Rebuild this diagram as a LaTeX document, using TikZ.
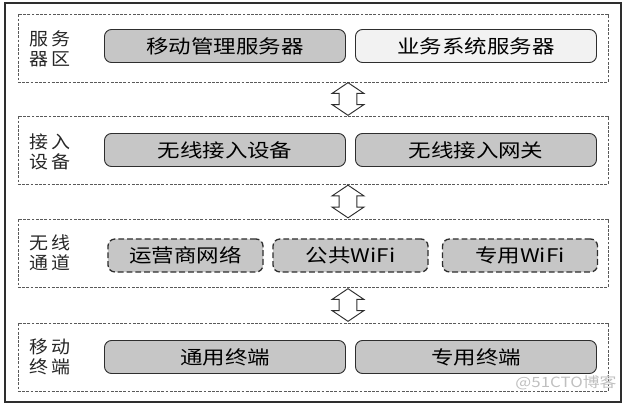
\documentclass[tikz,border=0pt]{standalone}
\usepackage{fontspec}
\newfontfamily\cjk[FakeStretch=1.2]{Noto Sans CJK SC}
\newfontfamily\cjklab[FakeStretch=1.08]{Noto Sans CJK SC}
\usepackage{tikz}
\usetikzlibrary{positioning,shapes.arrows,calc}
\definecolor{boxgray}{HTML}{C6C6C6}
\definecolor{boxlight}{HTML}{F2F2F2}
\definecolor{linedark}{HTML}{2E2E2E}
\definecolor{layerline}{HTML}{5A5A5A}

\begin{document}
\begin{tikzpicture}[
  x=0.03cm,y=-0.03cm,
  frame/.style={draw=linedark,line width=0.9pt,minimum width=18.48cm,minimum height=11.97cm,inner sep=0pt},
  layer/.style={draw=layerline,dash pattern=on 2.4pt off 1.2pt,line width=0.6pt,
                minimum width=17.7cm,minimum height=2.04cm,inner sep=0pt},
  lab/.style={font=\cjklab\fontsize{15}{17}\selectfont,align=left,inner sep=0pt,text=black!85},
  srv/.style={draw=linedark,line width=0.8pt,rounded corners=6pt,fill=boxgray,
              minimum width=7.23cm,minimum height=0.99cm,inner sep=0pt,
              font=\cjk\fontsize{16}{18}\selectfont},
  srvlight/.style={srv,fill=boxlight},
  chan/.style={srv,dash pattern=on 5pt off 2.5pt,line width=1.1pt,minimum width=4.65cm},
  dbl/.style={double arrow,draw=linedark,fill=white,line width=0.8pt,
              shape border rotate=90,minimum height=0.98cm,minimum width=0.93cm,
              inner sep=0.25cm,double arrow head extend=0.21cm,double arrow tip angle=112},
]
\useasboundingbox (0,0) rectangle (627,405);
\node[frame] (fr) at (313,202.5) {};

% Four layers
\node[layer] (l1) at (313,48) {};
\node[layer] (l2) at (313,150) {};
\node[layer] (l3) at (313,253) {};
\node[layer] (l4) at (313,357) {};

% Layer names on the left
\node[lab] (n1) at (50,49) {服\hspace{3pt}务\\器\hspace{3pt}区};
\node[lab] (n2) at (50,152) {接\hspace{3pt}入\\设\hspace{3pt}备};
\node[lab] (n3) at (50,253) {无\hspace{3pt}线\\通\hspace{3pt}道};
\node[lab] (n4) at (50,357) {移\hspace{3pt}动\\终\hspace{3pt}端};

% Boxes inside the layers
\node[srv] (mgr) at (225,46) {移动管理服务器};
\node[srvlight] (biz) at (476,46) {业务系统服务器};
\node[srv] (dev) at (225,150) {无线接入设备};
\node[srv] (gw) at (476,150) {无线接入网关};
\node[chan] (op) at (185.5,255.5) {运营商网络};
\node[chan] (pub) at (350.5,255.5) {公共WiFi};
\node[chan] (pri) at (520,255.5) {专用WiFi};
\node[srv] (gen) at (225,357) {通用终端};
\node[srv] (spec) at (476,357) {专用终端};

% Hollow arrows between layers
\coordinate (ax) at (348,0);
\node[dbl] (a1) at ($(l1.south -| ax)!.5!(l2.north -| ax)$) {};
\node[dbl] (a2) at ($(l2.south -| ax)!.5!(l3.north -| ax)$) {};
\node[dbl] (a3) at ($(l3.south -| ax)!.5!(l4.north -| ax)$) {};

\node[font=\cjk\fontsize{12}{14}\selectfont,text=black!25,inner sep=0pt] (wm) at (566,383) {@51CTO博客};
\end{tikzpicture}
\end{document}
